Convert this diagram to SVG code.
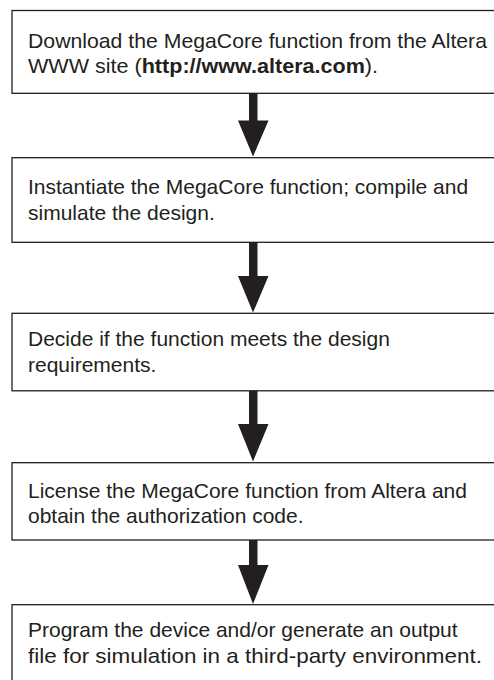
<svg xmlns="http://www.w3.org/2000/svg" width="494" height="680" viewBox="0 0 494 680">
<style>
.box{fill:#fff;stroke:#231f20;stroke-width:1.3}
.t{font-family:"Liberation Sans",Arial,sans-serif;font-size:21px;fill:#231f20}
.b{font-weight:bold}
.arr{fill:#231f20;stroke:none}
</style>
<rect width="494" height="680" fill="#fff"/>
<g id="n1">
<rect class="box" x="12" y="10.5" width="500" height="82.8"/>
<text class="t" x="28" y="47.5" textLength="459" lengthAdjust="spacingAndGlyphs">Download the MegaCore function from the Altera</text>
<text class="t" x="28" y="73" textLength="350" lengthAdjust="spacingAndGlyphs">WWW site (<tspan class="b">http://www.altera.com</tspan>).</text>
</g>
<g id="n2">
<rect class="box" x="12" y="157.7" width="500" height="84.6"/>
<text class="t" x="28" y="194.3">Instantiate the MegaCore function; compile and</text>
<text class="t" x="28" y="220">simulate the design.</text>
</g>
<g id="n3">
<rect class="box" x="12" y="313.3" width="500" height="77.5"/>
<text class="t" x="28" y="345.7">Decide if the function meets the design</text>
<text class="t" x="28" y="371.7">requirements.</text>
</g>
<g id="n4">
<rect class="box" x="12" y="462.7" width="500" height="77.3"/>
<text class="t" x="28" y="497.7">License the MegaCore function from Altera and</text>
<text class="t" x="28" y="523.3">obtain the authorization code.</text>
</g>
<g id="n5">
<rect class="box" x="12" y="604.7" width="500" height="100"/>
<text class="t" x="28" y="637.3">Program the device and/or generate an output</text>
<text class="t" x="28" y="663.3" textLength="454" lengthAdjust="spacingAndGlyphs">file for simulation in a third-party environment.</text>
</g>
<g id="connectors">
<path class="arr" d="M249,93.3 H257.5 V120.5 H268.5 L253,156.5 L238,120.5 H249 Z"/>
<path class="arr" d="M249,242.3 H257.5 V276 H268.5 L253,312.5 L238,276 H249 Z"/>
<path class="arr" d="M249,390.8 H257.5 V424 H268.5 L253,461.5 L238,424 H249 Z"/>
<path class="arr" d="M249,540 H257.5 V565 H268.5 L253,604 L238,565 H249 Z"/>
</g>
</svg>
